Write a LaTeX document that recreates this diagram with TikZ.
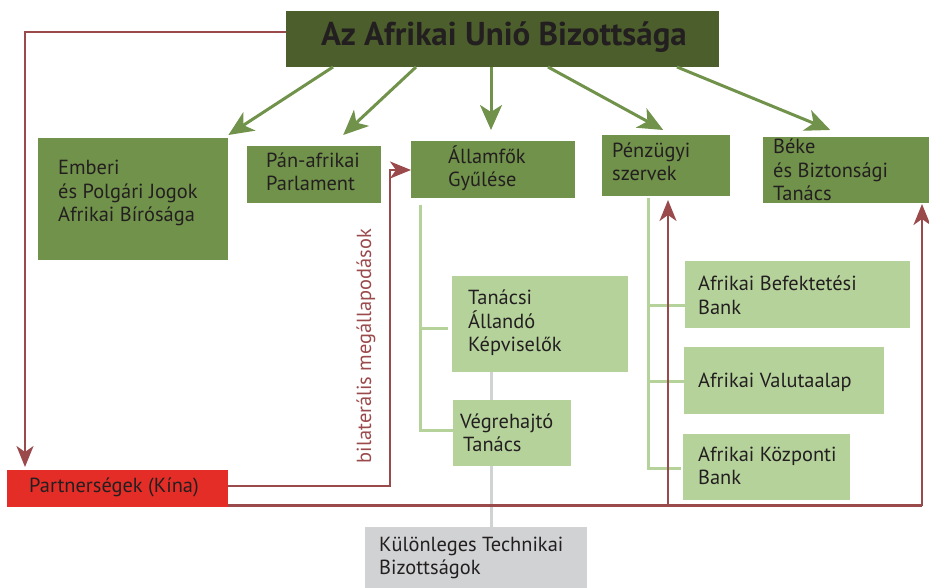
\documentclass[tikz,border=0pt]{standalone}
\usepackage{fontspec}
\setmainfont{PT Sans}
\usetikzlibrary{arrows.meta}
\definecolor{dkgreen}{HTML}{4B5E2C}
\definecolor{mdgreen}{HTML}{71924A}
\definecolor{ltgreen}{HTML}{B5D29B}
\definecolor{gbox}{HTML}{D1D2D3}
\definecolor{redbox}{HTML}{E52D27}
\definecolor{rcol}{HTML}{9B4A4C}
\definecolor{txt}{HTML}{231F20}
\begin{document}
\begin{tikzpicture}[x=1pt,y=-1pt,
  box/.style={draw=none, inner sep=0pt, anchor=north west},
  lbl/.style={inner sep=0pt, anchor=west, align=left, text=txt, font=\fontsize{20.4}{23.5}\selectfont},
  garrow/.style={draw=mdgreen, line width=3pt, -{Stealth[length=25pt,width=22pt,inset=7pt]}},
  rarrow/.style={draw=rcol, line width=2.6pt, -{Stealth[length=21pt,width=17pt,inset=6pt]}},
  rpath/.style={draw=rcol, line width=2.6pt},
  tline/.style={draw=ltgreen, line width=3pt},
  gline/.style={draw=gbox, line width=3pt}]
\useasboundingbox (0,0) rectangle (929,588);

% boxes
\node[box, fill=dkgreen, minimum width=433pt, minimum height=56pt] (top) at (286,11) {};
\node[box, fill=mdgreen, minimum width=190pt, minimum height=122pt] (emb) at (38,138) {};
\node[box, fill=mdgreen, minimum width=134pt, minimum height=57pt] (pan) at (247,146) {};
\node[box, fill=mdgreen, minimum width=164pt, minimum height=57pt] (all) at (411,141) {};
\node[box, fill=mdgreen, minimum width=128pt, minimum height=61pt] (pen) at (602,135) {};
\node[box, fill=mdgreen, minimum width=166pt, minimum height=66pt] (bek) at (763,137) {};
\node[box, fill=gbox, minimum width=222pt, minimum height=61pt] (kul) at (365,527) {};
\node[box, fill=ltgreen, minimum width=176pt, minimum height=96pt] (tan) at (452,276) {};

% tree lines (behind boxes)
\coordinate (ta) at (420,205);
\coordinate (pa) at (648,198);
\coordinate (g1) at (491,372);
\coordinate (g2) at (491,527);
\draw[gline] (g1) -- (g2);
\draw[tline] (ta) |- (453,430);
\draw[tline] (420,328) -- (448,328);
\draw[tline] (pa) |- (681,468);
\draw[tline] (648,305) -- (685,305);
\draw[tline] (648,381) -- (684,381);

\node[box, fill=ltgreen, minimum width=118pt, minimum height=66pt] (veg) at (453,400) {};
\node[box, fill=ltgreen, minimum width=225pt, minimum height=67pt] (bef) at (685,261) {};
\node[box, fill=ltgreen, minimum width=200pt, minimum height=67pt] (val) at (684,347) {};
\node[box, fill=ltgreen, minimum width=167pt, minimum height=66pt] (koz) at (683,434) {};
\node[box, fill=redbox, minimum width=221pt, minimum height=37pt] (par) at (7,470) {};

% texts
\node[inner sep=0pt, text=txt, font=\fontsize{33}{38}\selectfont\bfseries] (t-top) at (504,37) {Az Afrikai Unió Bizottsága};
\node[lbl] (t-emb) at (58,193) {Emberi\\és Polgári Jogok\\Afrikai Bírósága};
\node[lbl] (t-pan) at (266,172) {Pán-afrikai\\Parlament};
\node[lbl] (t-all) at (448,168) {Államfők\\Gyűlése};
\node[lbl] (t-pen) at (612,162) {Pénzügyi\\szervek};
\node[lbl] (t-bek) at (773,170) {Béke\\és Biztonsági\\Tanács};
\node[lbl] (t-tan) at (468,323) {Tanácsi\\Állandó\\Képviselők};
\node[lbl] (t-veg) at (460,433) {Végrehajtó\\\hspace*{3pt}Tanács};
\node[lbl] (t-kul) at (379,558) {Különleges Technikai\\Bizottságok};
\node[lbl] (t-bef) at (698,295) {Afrikai Befektetési\\Bank};
\node[lbl] (t-val) at (698,382) {Afrikai Valutaalap};
\node[lbl] (t-koz) at (698,466) {Afrikai Központi\\Bank};
\node[lbl] (t-par) at (29,487) {Partnerségek (Kína)};
\node[inner sep=0pt, rotate=90, text=rcol, font=\fontsize{20.4}{23.5}\selectfont] (bil) at (366,346) {bilaterális megállapodások};

% green arrows
\draw[garrow] (333,67) -- ([yshift=3pt]emb.north east);
\draw[garrow] (416,67) -- ([xshift=29pt,yshift=11pt]pan.north);
\draw[garrow] (491,67) -- (491,130);
\draw[garrow] (548,67) -- ([xshift=-3pt,yshift=5pt]pen.north);
\draw[garrow] (677,67) -- ([xshift=-16pt,yshift=7pt]bek.north);

% red connectors
\coordinate (topl) at (286,32);
\coordinate (bend) at (390,170);
\coordinate (low) at (228,505.5);
\coordinate (right) at (922,505.5);
\coordinate (mid) at (668,505.5);
\draw[rarrow] (topl) -| (25,467);
\draw[rarrow] (228,486) -| (bend) -- (bend -| all.west);
\draw[rpath] (low) -- (right);
\draw[rarrow] (right) -- (922,204);
\draw[rarrow] (mid) -- (668,200);
\end{tikzpicture}
\end{document}
